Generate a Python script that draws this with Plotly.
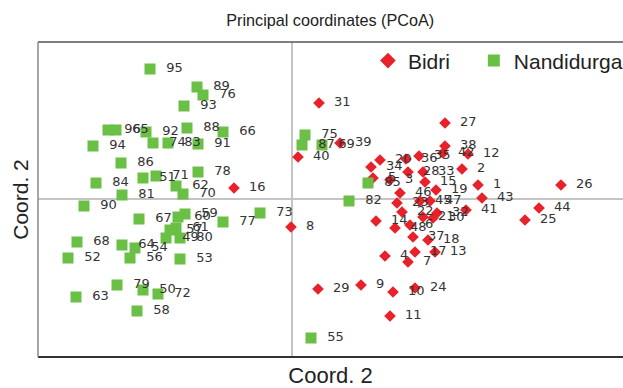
import plotly.graph_objects as go

# Bidri (red) accessions
bidri_labels = ["31","27","40","39","20","34","36","35","38","42","12","2","28","33","15","19",
                "46","45","47","23","1","43","41","26","44","25","30","32","21","14","48","37",
                "18","4","17","13","7","29","9","10","24","11","16","8","3","5","6","22"]
bidri_x = [0.27,1.53,0.06,0.48,0.88,0.79,1.14,1.27,1.53,1.51,1.76,1.70,1.16,1.31,1.33,1.44,
           1.08,1.28,1.38,1.05,1.86,1.90,1.74,2.69,2.47,2.33,1.41,1.45,1.31,0.84,1.03,1.21,
           1.36,0.93,1.23,1.43,1.16,0.26,0.69,1.01,1.23,0.98,-0.58,-0.01,0.98,0.81,1.18,1.10]
bidri_y = [0.96,0.76,0.42,0.56,0.39,0.32,0.40,0.43,0.53,0.46,0.45,0.30,0.27,0.27,0.17,0.09,
           0.06,-0.02,-0.02,-0.04,0.14,0.01,-0.11,0.14,-0.09,-0.21,-0.19,-0.14,-0.18,-0.22,-0.29,-0.38,
           -0.41,-0.57,-0.53,-0.53,-0.63,-0.90,-0.86,-0.93,-0.89,-1.17,0.11,-0.28,0.19,0.21,-0.26,-0.13]

# Nandidurga (green) accessions
nandi_labels = ["95","89","76","93","96","65","92","74","83","88","66","91","94","86","51","71",
                "62","70","78","84","81","90","67","59","60","61","80","49","57","64","54","56",
                "53","77","73","68","52","63","79","50","72","58","55","75","87","69","85","82"]
nandi_x = [-1.42,-0.95,-0.89,-1.08,-1.84,-1.76,-1.46,-1.39,-1.24,-1.05,-0.69,-0.94,-1.99,-1.71,-1.49,-1.36,
           -1.16,-1.09,-0.94,-1.96,-1.70,-2.08,-1.53,-1.07,-1.14,-1.16,-1.12,-1.26,-1.22,-1.70,-1.57,-1.62,
           -1.12,-0.69,-0.32,-2.15,-2.24,-2.16,-1.75,-1.49,-1.34,-1.55,0.19,0.13,0.10,0.30,0.76,0.57]
nandi_y = [1.30,1.12,1.04,0.93,0.69,0.69,0.67,0.56,0.56,0.71,0.67,0.55,0.53,0.36,0.21,0.23,
           0.13,0.05,0.27,0.16,0.04,-0.07,-0.20,-0.15,-0.18,-0.29,-0.39,-0.39,-0.31,-0.46,-0.49,-0.59,
           -0.60,-0.23,-0.14,-0.43,-0.59,-0.98,-0.86,-0.91,-0.95,-1.12,-1.39,0.64,0.54,0.54,0.16,-0.02]

label_font = dict(family="DejaVu Sans", size=13, color="#333333")

fig = go.Figure()
fig.add_trace(go.Scatter(
    x=bidri_x, y=bidri_y, mode="markers+text", name="Bidri", legend="legend",
    text=["  " + t for t in bidri_labels], textposition="middle right", textfont=label_font,
    marker=dict(symbol="diamond", size=9, color="#e8222b", line=dict(width=0)),
))
fig.add_trace(go.Scatter(
    x=nandi_x, y=nandi_y, mode="markers+text", name="Nandidurga", legend="legend2",
    text=["  " + t for t in nandi_labels], textposition="middle right", textfont=label_font,
    marker=dict(symbol="square", size=11, color="#6abf45", line=dict(width=0)),
))

legend_font = dict(size=21, family="Liberation Sans, Arial", color="#222222")
frame = "#555555"
fig.update_layout(
    width=623, height=388,
    margin=dict(l=38, r=0, t=42, b=31, autoexpand=False),
    paper_bgcolor="white", plot_bgcolor="white",
    font=dict(family="Liberation Sans, Arial", color="#222222"),
    title=dict(text="Principal coordinates (PCoA)", x=0.53, xref="container", xanchor="center",
               y=0.948, yref="container", yanchor="middle", font=dict(size=16.2)),
    showlegend=True,
    legend=dict(orientation="h", x=0.564, y=1.005, xanchor="left", yanchor="top",
                font=legend_font, bgcolor="rgba(0,0,0,0)", itemsizing="constant"),
    legend2=dict(orientation="h", x=0.745, y=1.005, xanchor="left", yanchor="top",
                 font=legend_font, bgcolor="rgba(0,0,0,0)", itemsizing="constant"),
    xaxis=dict(range=[-2.54, 3.31], showgrid=False, showticklabels=False, ticks="",
               automargin=False,
               zeroline=True, zerolinecolor="#c4c4c4", zerolinewidth=1.5,
               title=dict(text="Coord. 2", font=dict(size=22), standoff=10)),
    yaxis=dict(range=[-1.58, 1.57], showgrid=False, showticklabels=False, ticks="",
               automargin=False,
               zeroline=True, zerolinecolor="#c4c4c4", zerolinewidth=1.5,
               title=dict(text="Coord. 2", font=dict(size=21), standoff=2)),
    shapes=[
        dict(type="line", xref="paper", yref="paper", x0=0, x1=1, y0=1, y1=1, line=dict(color=frame, width=1.5)),
        dict(type="line", xref="paper", yref="paper", x0=0, x1=1, y0=0, y1=0, line=dict(color="#333333", width=2)),
        dict(type="line", xref="paper", yref="paper", x0=0, x1=0, y0=0, y1=1, line=dict(color="#888888", width=1.5)),
    ],
)

fig.write_html("out.html", config={"displayModeBar": False},
               post_script="document.body.style.margin='0px';")
